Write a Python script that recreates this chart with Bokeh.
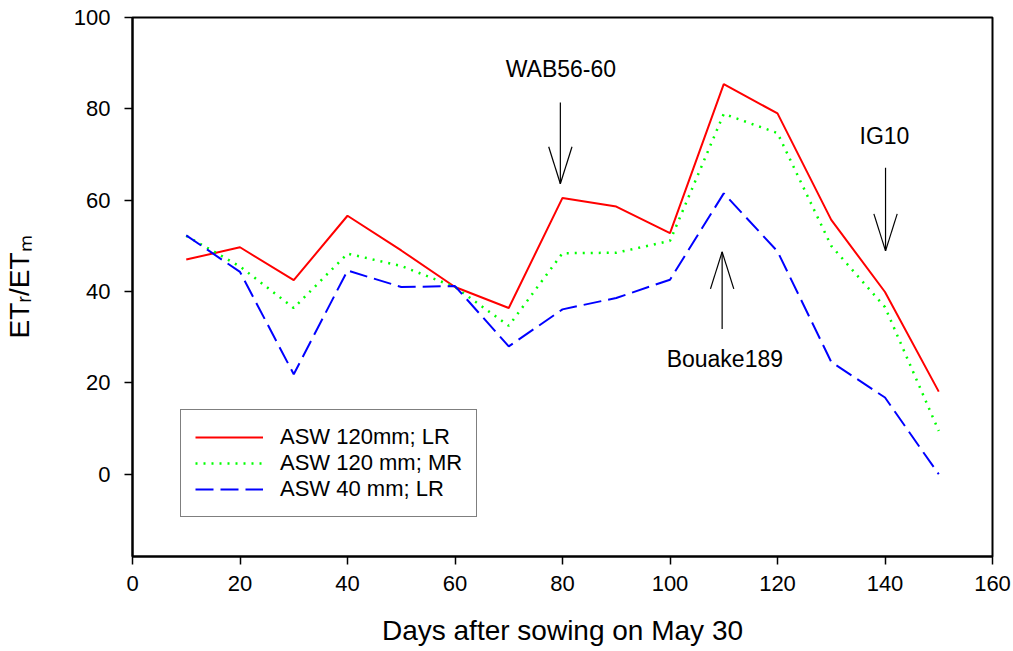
from bokeh.plotting import figure
from bokeh.models import Range1d, FixedTicker, Legend, LegendItem
from bokeh.embed import file_html
from bokeh.resources import INLINE
from bokeh.core.properties import value

# ---- data ----
days = [10, 20, 30, 40, 50, 60, 70, 80, 90, 100, 110, 120, 130, 140, 150]
asw120_lr = [47.0, 49.7, 42.5, 56.6, 49.0, 41.0, 36.4, 60.5, 58.6, 52.8, 85.4, 79.0, 55.7, 39.9, 18.1]
asw120_mr = [52.2, 45.5, 36.4, 48.3, 45.6, 41.0, 32.5, 48.4, 48.5, 51.1, 78.9, 74.7, 50.0, 36.6, 9.5]
asw40_lr = [52.3, 44.3, 21.9, 44.6, 41.0, 41.2, 28.0, 36.1, 38.6, 42.6, 61.5, 48.8, 24.6, 16.8, 0.0]

series_names = ["ASW 120mm; LR", "ASW 120 mm; MR", "ASW 40 mm; LR"]

x_ticks = [0, 20, 40, 60, 80, 100, 120, 140, 160]
y_ticks = [0, 20, 40, 60, 80, 100]

# annotations: cultivar arrows
ann_labels = ["WAB56-60", "Bouake189", "IG10"]
ann_label_x = [79.7, 110.2, 139.9]
ann_label_y = [88.8, 25.3, 74.1]
arrow_x = [79.6, 109.7, 140.1]
arrow_tail = [81.4, 31.8, 67.1]
arrow_tip = [63.6, 48.7, 48.9]

FONT = "Liberation Sans"

p = figure(width=1013, height=651, output_backend="svg", toolbar_location=None,
           x_range=Range1d(0, 160), y_range=Range1d(-18, 100),
           min_border_left=131, min_border_right=21, min_border_top=17,
           min_border_bottom=95)
p.background_fill_color = "white"
p.border_fill_color = "white"
p.outline_line_color = "black"
p.outline_line_width = 2
p.xgrid.visible = False
p.ygrid.visible = False

for ax in (p.xaxis[0], p.yaxis[0]):
    ax.axis_line_color = "black"
    ax.axis_line_width = 2
    ax.major_tick_line_color = "black"
    ax.major_tick_line_width = 1.5
    ax.major_tick_out = 8
    ax.major_tick_in = 0
    ax.minor_tick_line_color = None
    ax.major_label_text_font = FONT
    ax.major_label_text_font_size = "22px"
    ax.major_label_text_color = "black"
    ax.axis_label_text_font = FONT
    ax.axis_label_text_font_size = "28px"
    ax.axis_label_text_font_style = "normal"
    ax.axis_label_text_color = "black"

p.xaxis[0].ticker = FixedTicker(ticks=x_ticks)
p.yaxis[0].ticker = FixedTicker(ticks=y_ticks)
p.xaxis[0].major_label_standoff = 11
p.yaxis[0].major_label_standoff = 14
p.xaxis[0].axis_label = "Days after sowing on May 30"
p.yaxis[0].axis_label = "ETᵣ/ETₘ"
p.xaxis[0].axis_label_standoff = 21
p.yaxis[0].axis_label_standoff = 36

r1 = p.line(days, asw120_lr, line_color="#ff0000", line_width=2)
r2 = p.line(days, asw120_mr, line_color="#00ff00", line_width=2.5, line_dash="2 6")
r3 = p.line(days, asw40_lr, line_color="#0000ff", line_width=2, line_dash="18 7")

# arrows (shaft + open head) built from the annotation arrays
head_len = 8.1
head_half = 2.17
sx0, sy0, sx1, sy1 = [], [], [], []
for ax_, tail, tip in zip(arrow_x, arrow_tail, arrow_tip):
    direction = 1 if tail > tip else -1  # head opens back toward the tail
    sx0.append(ax_); sy0.append(tail); sx1.append(ax_); sy1.append(tip)
    for s in (-1, 1):
        sx0.append(ax_); sy0.append(tip)
        sx1.append(ax_ + s * head_half); sy1.append(tip + direction * head_len)
p.segment(x0=sx0, y0=sy0, x1=sx1, y1=sy1, line_color="black", line_width=1.2)

p.text(x=ann_label_x, y=ann_label_y, text=ann_labels, text_align="center",
       text_baseline="middle", text_font=value(FONT), text_font_size="23px",
       text_color="black")

legend = Legend(items=[LegendItem(label=series_names[0], renderers=[r1]),
                       LegendItem(label=series_names[1], renderers=[r2]),
                       LegendItem(label=series_names[2], renderers=[r3])],
                location=(48, 39))
legend.label_text_font = FONT
legend.label_text_font_size = "22px"
legend.label_text_color = "black"
legend.glyph_width = 68
legend.glyph_height = 24
legend.label_height = 24
legend.label_standoff = 17
legend.spacing = 0
legend.padding = 14
legend.margin = 0
legend.border_line_color = "black"
legend.border_line_width = 1.5
legend.background_fill_color = "white"
legend.background_fill_alpha = 1.0
p.add_layout(legend)

open("out.html", "w").write(file_html(p, INLINE))
